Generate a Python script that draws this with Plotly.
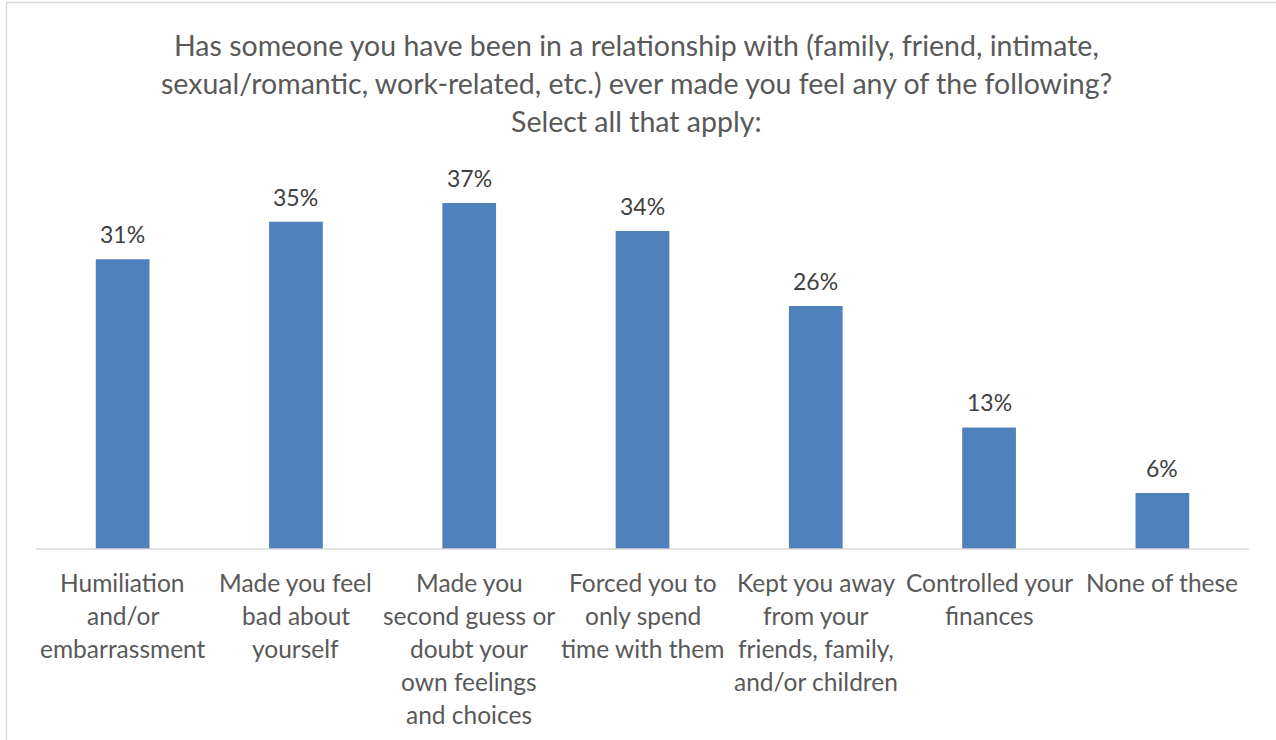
import plotly.graph_objects as go

# Survey responses (share of respondents)
category_lines = [
    ["Humiliation", "and/or", "embarrassment"],
    ["Made you feel", "bad about", "yourself"],
    ["Made you", "second guess or", "doubt your", "own feelings", "and choices"],
    ["Forced you to", "only spend", "time with them"],
    ["Kept you away", "from your", "friends, family,", "and/or children"],
    ["Controlled your", "finances"],
    ["None of these"],
]
values = [31, 35, 37, 34, 26, 13, 6]
value_labels = ["31%", "35%", "37%", "34%", "26%", "13%", "6%"]
title_lines = [
    "Has someone you have been in a relationship with (family, friend, intimate,",
    "sexual/romantic, work-related, etc.) ever made you feel any of the following?",
    "Select all that apply:",
]

W, H = 1276, 740
PLOT_L, PLOT_R, PLOT_T, PLOT_B = 36, 1249, 175, 549
FONT = "Lato, Calibri, sans-serif"
TEXT_GREY = "#595959"

x = list(range(len(values)))


def px_x(p):
    return (p - PLOT_L) / (PLOT_R - PLOT_L)


def px_y(p):
    return (PLOT_B - p) / (PLOT_B - PLOT_T)


fig = go.Figure(
    go.Bar(
        x=x,
        y=values,
        width=0.31,
        marker=dict(color="#4F81BD", line=dict(width=0)),
        hoverinfo="skip",
    )
)

annotations = []

# value labels above each bar
for xi, v, lab in zip(x, values, value_labels):
    annotations.append(dict(
        x=xi, y=v, xref="x", yref="y", text=lab, showarrow=False,
        yanchor="middle", yshift=25,
        font=dict(family=FONT, size=23, color="#404040"),
    ))

# category labels, one annotation per line for tight control of spacing
for xi, lines in zip(x, category_lines):
    for k, line in enumerate(lines):
        annotations.append(dict(
            x=xi, y=px_y(582 + 33 * k), xref="x", yref="paper", text=line,
            showarrow=False, yanchor="middle", xanchor="center",
            font=dict(family=FONT, size=24.5, color=TEXT_GREY),
        ))

# title lines
for k, line in enumerate(title_lines):
    annotations.append(dict(
        x=px_x(636), y=px_y(45 + 38 * k), xref="paper", yref="paper", text=line,
        showarrow=False, yanchor="middle", xanchor="center",
        font=dict(family=FONT, size=28.5, color=TEXT_GREY),
    ))

shapes = [
    # baseline
    dict(type="line", xref="paper", yref="paper", x0=0, x1=1, y0=0, y1=0,
         line=dict(color="#D9D9D9", width=1.5)),
    # chart frame
    dict(type="rect", xref="paper", yref="paper",
         x0=px_x(6.5), x1=px_x(1285), y0=px_y(750), y1=px_y(2.5),
         line=dict(color="#D9D9D9", width=1.5), fillcolor="rgba(0,0,0,0)"),
]

fig.update_layout(
    width=W, height=H,
    margin=dict(l=PLOT_L, r=W - PLOT_R, t=PLOT_T, b=H - PLOT_B),
    paper_bgcolor="white", plot_bgcolor="white",
    showlegend=False,
    xaxis=dict(range=[-0.5, len(values) - 0.5], showticklabels=False,
               showgrid=False, zeroline=False, showline=False, ticks=""),
    yaxis=dict(range=[0, 40], visible=False),
    annotations=annotations,
    shapes=shapes,
)

fig.write_html("out.html", config=dict(displayModeBar=False))
